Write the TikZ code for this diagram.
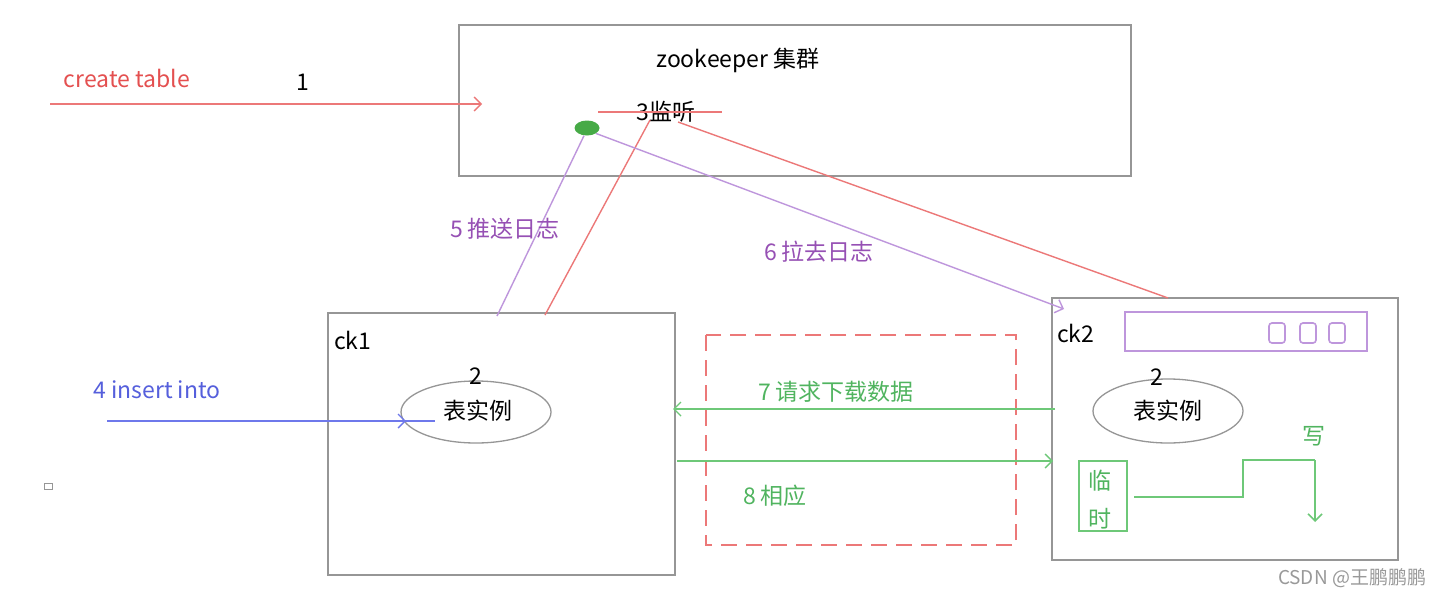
\documentclass[tikz,border=0pt]{standalone}
\usepackage{fontspec}
\setmainfont{Noto Sans CJK SC}
\usetikzlibrary{arrows.meta,shapes.geometric}
\definecolor{boxgray}{RGB}{150,150,150}
\definecolor{lred}{RGB}{236,120,120}
\definecolor{tred}{RGB}{228,80,80}
\definecolor{lpurple}{RGB}{190,150,220}
\definecolor{tpurple}{RGB}{150,80,180}
\definecolor{lgreen}{RGB}{110,200,120}
\definecolor{tgreen}{RGB}{80,180,95}
\definecolor{lblue}{RGB}{110,120,235}
\definecolor{tblue}{RGB}{85,95,220}
\definecolor{dotgreen}{RGB}{70,170,70}
\begin{document}
\begin{tikzpicture}[x=1pt,y=-1pt,
  box/.style={draw=boxgray,line width=2pt},
  txt/.style={font=\fontsize{23}{26}\selectfont,inner sep=0pt},
  inst/.style={ellipse,draw=boxgray,line width=1.3pt,minimum width=150pt,minimum height=62pt,inner sep=0pt},
  barb/.style={-{Straight Barb[length=7pt,width=14pt]}}
]
\useasboundingbox (0,0) rectangle (1443,597);
\fill[white] (0,0) rectangle (1443,597);

% zookeeper box
\draw[box] (459,25) rectangle (1131,176);
\node[txt] (zk) at (738,60) {zookeeper 集群};
\node[txt] (l3) at (666,112) {3监听};
\coordinate (l3a) at (598,112);
\coordinate (l3b) at (722,112);
\draw[lred,line width=1.4pt] (l3a) -- (l3b);
\node[ellipse,fill=dotgreen,minimum width=25pt,minimum height=15pt,inner sep=0pt] (dot) at (587,128) {};

% create table
\node[txt,text=tred] (ct) at (127,78) {create table};
\node[txt] (n1) at (303,82) {1};
\coordinate (cts) at (50,104);
\coordinate (cte) at (482,104);
\draw[lred,line width=1.4pt,barb] (cts) -- (cte);

% ck1
\draw[box] (328,313) rectangle (675,575);
\node[txt,anchor=west] (ck1) at (334,340) {ck1};
\node[inst] (e1) at (476,412) {};
\node[txt] (e1t) at (478,411) {表实例};
\node[txt] (e1n) at (476,376) {2};

% ck2
\draw[box] (1052,298) rectangle (1398,560);
\node[txt,anchor=west] (ck2) at (1057,333) {ck2};
\draw[lpurple,line width=1.6pt] (1125,312) rectangle (1367,351);
\foreach \xx in {1277,1308,1337}{
  \draw[lpurple,line width=1.6pt,rounded corners=3pt] (\xx-8,323) rectangle (\xx+8,343);
}
\node[inst,minimum height=64pt] (e2) at (1168,411) {};
\node[txt] (e2t) at (1168,411) {表实例};
\node[txt] (e2n) at (1157,377) {2};

% temp box and write
\draw[lgreen,line width=1.6pt] (1079,461) rectangle (1127,531);
\node[txt,text=tgreen] (lin) at (1100,481) {临};
\node[txt,text=tgreen] (shi) at (1100,519) {时};
\node[txt,text=tgreen] (xie) at (1314,436) {写};
\coordinate (w0) at (1134,497);
\coordinate (w1) at (1243,497);
\coordinate (w2) at (1243,460);
\coordinate (w3) at (1315,460);
\coordinate (w4) at (1315,522);
\draw[lgreen,line width=1.6pt] (w0) -- (w1) -- (w2) -- (w3);
\draw[lgreen,line width=1.6pt,barb] (w3) -- (w4);

% red lines from 3
\coordinate (r1s) at (650,120);
\coordinate (r1e) at (545,315);
\coordinate (r2s) at (678,122);
\coordinate (r2e) at (1168,298);
\draw[lred,line width=1.4pt] (r1s) -- (r1e);
\draw[lred,line width=1.4pt] (r2s) -- (r2e);

% purple lines
\coordinate (p1e) at (497,316);
\coordinate (p2e) at (1064,309);
\draw[lpurple,line width=1.4pt] (dot.south) ++(-3,0) -- (p1e);
\draw[lpurple,line width=1.4pt,barb] (dot.south east) -- (p2e);
\node[txt,text=tpurple] (l5) at (505,229) {5 推送日志};
\node[txt,text=tpurple] (l6) at (819,252) {6 拉去日志};

% insert into
\node[txt,text=tblue] (ins) at (157,390) {4 insert into};
\coordinate (is) at (107,421);
\coordinate (ie) at (435,421);
\coordinate (itip) at (406,421);
\draw[lblue,line width=1.4pt] (is) -- (ie);
\draw[lblue,line width=1.4pt,barb] (is) -- (itip);

% small square
\draw[boxgray,line width=1pt] (44,483) rectangle (52,489);

% dashed box
\draw[lred,line width=1.6pt,dash pattern=on 16pt off 9pt] (706,335) rectangle (1016,545);

% green arrows
\coordinate (g7s) at (1055,409);
\coordinate (g7e) at (673,409);
\coordinate (g8s) at (677,461);
\coordinate (g8e) at (1053,461);
\draw[lgreen,line width=1.4pt,barb] (g7s) -- (g7e);
\draw[lgreen,line width=1.4pt,barb] (g8s) -- (g8e);
\node[txt,text=tgreen] (l7) at (836,392) {7 请求下载数据};
\node[txt,text=tgreen] (l8) at (775,496) {8 相应};

% watermark
\node[font=\fontsize{19}{22}\selectfont,text=gray!80,inner sep=0pt] (wm) at (1352,578) {CSDN @王鹏鹏鹏};
\end{tikzpicture}
\end{document}
